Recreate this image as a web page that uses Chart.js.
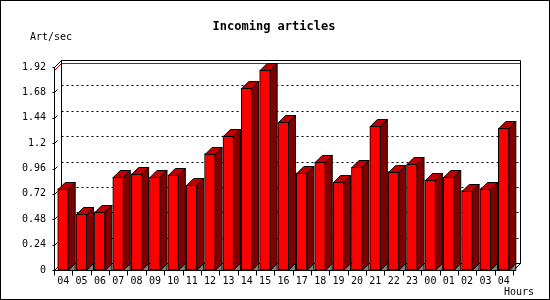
<!DOCTYPE html>
<html>
<head>
<meta charset="utf-8">
<script src="https://cdn.jsdelivr.net/npm/chart.js@4/dist/chart.umd.min.js"></script>
<style>
  body { margin: 0; background: #fff; }
  canvas { display: block; }
</style>
</head>
<body>
<canvas id="articlesChart" width="550" height="300"></canvas>
<script>
const hours = ['04', '05', '06', '07', '08', '09', '10', '11', '12', '13', '14', '15', '16',
               '17', '18', '19', '20', '21', '22', '23', '00', '01', '02', '03', '04'];
const articlesPerSec = [0.77, 0.53, 0.55, 0.88, 0.91, 0.88, 0.90, 0.80, 1.10, 1.27, 1.72, 1.89, 1.40,
                        0.92, 1.02, 0.83, 0.97, 1.36, 0.93, 1.00, 0.85, 0.88, 0.75, 0.77, 1.34];
const yTickValues = [0, 0.24, 0.48, 0.72, 0.96, 1.2, 1.44, 1.68, 1.92];
const yTickLabels = ['0', '0.24', '0.48', '0.72', '0.96', '1.2', '1.44', '1.68', '1.92'];

const DEPTH = 7;
const MONO = "'DejaVu Sans Mono', 'Liberation Mono', monospace";

function line(ctx, x1, y1, x2, y2) {
    ctx.beginPath();
    ctx.moveTo(x1, y1);
    ctx.lineTo(x2, y2);
    ctx.stroke();
}

function poly(ctx, pts, fill) {
    ctx.beginPath();
    ctx.moveTo(pts[0][0], pts[0][1]);
    for (let i = 1; i < pts.length; i++) ctx.lineTo(pts[i][0], pts[i][1]);
    ctx.closePath();
    ctx.fillStyle = fill;
    ctx.fill();
    ctx.stroke();
}

// frame, back wall grid, texts
const wallPlugin = {
    id: 'wall',
    beforeDatasetsDraw(chart) {
        const ctx = chart.ctx;
        const a = chart.chartArea;
        const y = chart.scales.y;
        const x = chart.scales.x;
        const L = Math.round(a.left) + 0.5, R = Math.round(a.right) + 0.5;
        const T = Math.round(a.top) + 0.5, B = Math.round(a.bottom) + 0.5;
        ctx.save();
        ctx.lineWidth = 1;
        ctx.strokeStyle = '#000';

        // outer border
        ctx.strokeRect(0.5, 0.5, 549, 299);

        // dashed grid on back wall
        ctx.setLineDash([2, 3]);
        yTickValues.forEach(v => {
            if (v === 0 || v === yTickValues[yTickValues.length - 1]) return;
            const py = Math.round(y.getPixelForValue(v)) - DEPTH + 0.5;
            line(ctx, L + DEPTH, py, R + DEPTH, py);
        });
        ctx.setLineDash([]);

        // max line
        const maxVal = Math.max(...articlesPerSec);
        const my = Math.round(y.getPixelForValue(maxVal)) + 0.5;
        ctx.strokeStyle = '#d00000';
        line(ctx, L, my, L + DEPTH, my - DEPTH);
        line(ctx, L + DEPTH, my - DEPTH, R + DEPTH, my - DEPTH);
        ctx.strokeStyle = '#000';

        // box
        line(ctx, L, T, L, B);
        line(ctx, L, B, R, B);
        line(ctx, L, T, L + DEPTH, T - DEPTH);
        line(ctx, L + DEPTH, T - DEPTH, R + DEPTH, T - DEPTH);
        line(ctx, L + DEPTH, T - DEPTH, L + DEPTH, B - DEPTH);
        line(ctx, R + DEPTH, T - DEPTH, R + DEPTH, B - DEPTH);
        line(ctx, L, B, L + DEPTH, B - DEPTH);
        line(ctx, L + DEPTH, B - DEPTH, R + DEPTH, B - DEPTH);
        line(ctx, R, B, R + DEPTH, B - DEPTH);

        // y ticks
        yTickValues.forEach(v => {
            const py = Math.round(y.getPixelForValue(v)) + 0.5;
            line(ctx, L - 2, py, L, py);
            line(ctx, L, py, L + 3, py - 3);
        });

        // x ticks at category boundaries
        const step = (a.right - a.left) / hours.length;
        for (let i = 0; i <= hours.length; i++) {
            const px = Math.round(a.left + i * step) + 0.5;
            line(ctx, px, B, px, B + 5);
        }

        // texts
        ctx.fillStyle = '#000';
        ctx.textBaseline = 'middle';
        ctx.textAlign = 'center';
        ctx.font = 'bold 12px ' + MONO;
        ctx.fillText('Incoming articles', 274, 27);
        ctx.font = '10px ' + MONO;
        ctx.textAlign = 'left';
        ctx.fillText('Art/sec', 30, 37);
        ctx.fillText('Hours', 504, 292);
        ctx.restore();
    },
    afterDatasetsDraw(chart) {
        const ctx = chart.ctx;
        const meta = chart.getDatasetMeta(0);
        ctx.save();
        ctx.lineWidth = 1;
        ctx.strokeStyle = '#000';
        meta.data.forEach(bar => {
            const p = bar.getProps(['x', 'y', 'base', 'width'], true);
            const x1 = p.x - p.width / 2 + 0.5;
            const x2 = p.x + p.width / 2 - 0.5;
            const top = Math.round(p.y) + 0.5;
            const base = Math.round(p.base) + 0.5;
            // floor shadow
            poly(ctx, [[x2, base], [x2 + DEPTH, base - DEPTH], [x2 + DEPTH, base]], '#808080');
            // side face
            poly(ctx, [[x2, top], [x2 + DEPTH, top - DEPTH], [x2 + DEPTH, base - DEPTH], [x2, base]], '#800000');
            // top face
            poly(ctx, [[x1, top], [x1 + DEPTH, top - DEPTH], [x2 + DEPTH, top - DEPTH], [x2, top]], '#c00000');
        });
        ctx.restore();
    }
};

new Chart(document.getElementById('articlesChart').getContext('2d'), {
    type: 'bar',
    data: {
        labels: hours,
        datasets: [{
            label: 'Art/sec',
            data: articlesPerSec,
            backgroundColor: '#ff0000',
            borderColor: '#000000',
            borderWidth: 1,
            borderSkipped: false,
            barThickness: 11
        }]
    },
    options: {
        responsive: false,
        animation: false,
        devicePixelRatio: 1,
        layout: { padding: { left: 0, right: 37, top: 67, bottom: 0 } },
        plugins: {
            legend: { display: false },
            tooltip: { enabled: false },
            title: { display: false }
        },
        scales: {
            x: {
                grid: { display: false, drawTicks: false },
                border: { display: false },
                ticks: {
                    color: '#000',
                    font: { family: MONO, size: 10 },
                    padding: 5,
                    autoSkip: false,
                    maxRotation: 0
                },
                afterFit(scale) { scale.height = 30; }
            },
            y: {
                min: 0,
                max: 1.92,
                grid: { display: false, drawTicks: false },
                border: { display: false },
                afterBuildTicks(scale) {
                    scale.ticks = yTickValues.map(v => ({ value: v }));
                },
                ticks: {
                    color: '#000',
                    font: { family: MONO, size: 10 },
                    padding: 8,
                    callback: (v, i) => yTickLabels[i]
                },
                afterFit(scale) { scale.width = 54; }
            }
        }
    },
    plugins: [wallPlugin]
});
</script>
</body>
</html>
